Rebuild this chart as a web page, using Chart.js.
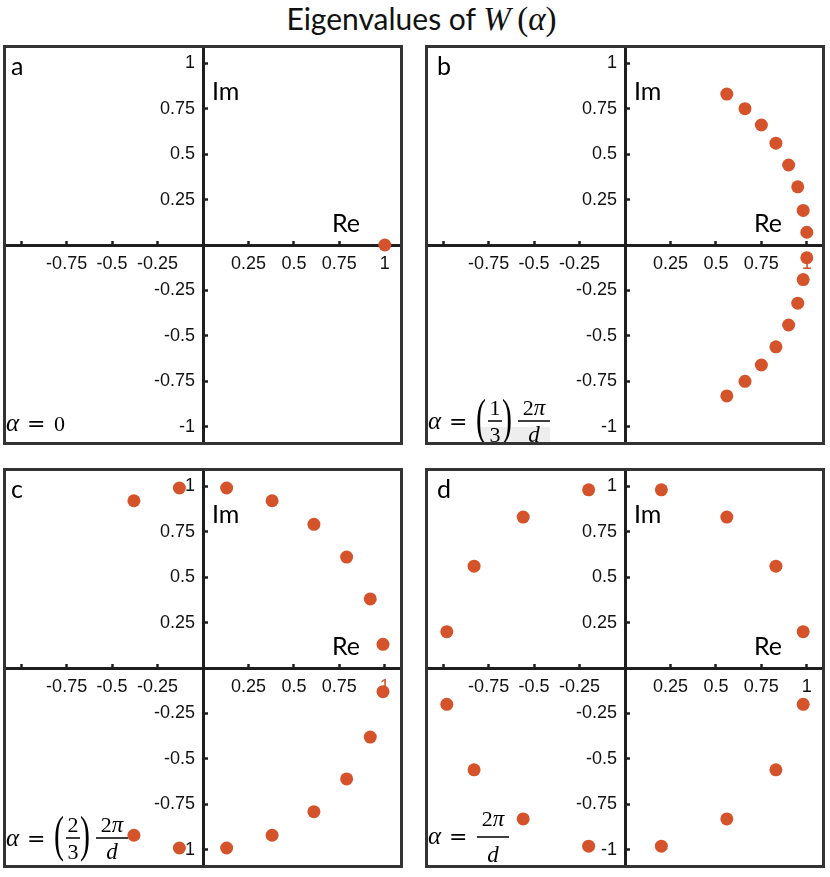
<!DOCTYPE html>
<html>
<head>
  <title>Eigenvalues of W(alpha)</title>
  <script src="https://cdn.jsdelivr.net/npm/chart.js@4.4.0/dist/chart.umd.min.js"></script>
  <style>
    body { margin: 0; background: #fff; }
    #wrap { position: relative; width: 830px; height: 877px; overflow: hidden; }
    #title {
      position: absolute; left: 0; top: 1px; width: 843px;
      text-align: center; white-space: nowrap;
      font-family: Lato, sans-serif; font-size: 30px; line-height: 34px; color: #111;
    }
    #title .m { font-family: 'Liberation Serif', serif; font-size: 33px; }
    canvas { position: absolute; }
  </style>
</head>
<body>
<div id="wrap">
  <div id="title">Eigenvalues of <span class="m"><i>W</i>&#8201;(<i>α</i>)</span></div>
  <canvas id="pa" width="400" height="400" style="left:3px;top:45px"></canvas>
  <canvas id="pb" width="400" height="400" style="left:425px;top:45px"></canvas>
  <canvas id="pc" width="400" height="400" style="left:3px;top:468px"></canvas>
  <canvas id="pd" width="400" height="400" style="left:425px;top:468px"></canvas>
</div>
<script>
  // ticks (same for all four panels)
  var reTicks = [-1, -0.75, -0.5, -0.25, 0.25, 0.5, 0.75, 1];
  var reTickLabels = ['', '-0.75', '-0.5', '-0.25', '0.25', '0.5', '0.75', '1'];
  var imTicks = [-1, -0.75, -0.5, -0.25, 0.25, 0.5, 0.75, 1];
  var imTickLabels = ['-1', '-0.75', '-0.5', '-0.25', '0.25', '0.5', '0.75', '1'];

  // a : alpha = 0
  var reA = [1];
  var imA = [0];

  // b : alpha = (1/3) 2pi/d
  var reB = [0.56, 0.66, 0.75, 0.83, 0.90, 0.95, 0.98, 1.00, 1.00, 0.98, 0.95, 0.90, 0.83, 0.75, 0.66, 0.56];
  var imB = [0.83, 0.75, 0.66, 0.56, 0.44, 0.32, 0.19, 0.07, -0.07, -0.19, -0.32, -0.44, -0.56, -0.66, -0.75, -0.83];

  // c : alpha = (2/3) 2pi/d
  var reC = [0.13, 0.38, 0.61, 0.79, 0.92, 0.99, 0.99, 0.92, 0.79, 0.61, 0.38, 0.13, -0.13, -0.38, -0.38, -0.13];
  var imC = [0.99, 0.92, 0.79, 0.61, 0.38, 0.13, -0.13, -0.38, -0.61, -0.79, -0.92, -0.99, -0.99, -0.92, 0.92, 0.99];

  // d : alpha = 2pi/d
  var reD = [0.20, 0.56, 0.83, 0.98, 0.98, 0.83, 0.56, 0.20, -0.20, -0.56, -0.83, -0.98, -0.98, -0.83, -0.56, -0.20];
  var imD = [0.98, 0.83, 0.56, 0.20, -0.20, -0.56, -0.83, -0.98, -0.98, -0.83, -0.56, -0.20, 0.20, 0.56, 0.83, 0.98];

  var DOT = '#d5532b';
  var INK = '#1e1e1e';
  var SERIF = '"Liberation Serif", serif';

  function axisOpts(ticks, labels, oneOrange) {
    return {
      type: 'linear',
      min: -1.1,
      max: 1.1,
      position: 'center',
      afterBuildTicks: function(s) {
        s.ticks = ticks.map(function(v) { return { value: v }; });
      },
      // axes sit inside the plot, so they should not push the plot area in
      afterFit: function(s) {
        s.paddingTop = s.paddingBottom = s.paddingLeft = s.paddingRight = 0;
      },
      grid: { drawOnChartArea: false, drawTicks: true, tickLength: -6, tickWidth: 2.5, tickColor: INK },
      border: { display: true, color: INK, width: 3 },
      ticks: {
        padding: 14,
        autoSkip: false,
        maxRotation: 0,
        minRotation: 0,
        font: { family: 'Liberation Sans', size: 18 },
        color: function(c) {
          return (oneOrange && c.tick && c.tick.value === 1) ? DOT : '#111';
        },
        callback: function(v, i) { return labels[i]; }
      }
    };
  }

  // text runs: [text, font]; centred on xc
  function runs(ctx, parts, xc, y) {
    var w = 0;
    parts.forEach(function(p) { ctx.font = p[1]; w += ctx.measureText(p[0]).width; });
    var x = xc - w / 2;
    ctx.textAlign = 'left';
    parts.forEach(function(p) { ctx.font = p[1]; ctx.fillText(p[0], x, y); x += ctx.measureText(p[0]).width; });
  }

  function alphaEq(ctx, x0, y0, base) {
    ctx.font = 'italic 25px ' + SERIF;
    ctx.fillText('α', x0 + 3, base);
    ctx.font = '22px "DejaVu Serif"';
    ctx.fillText('=', x0 + 24, base);
  }

  function frac(ctx, num, den, xl, xr, bar, numGap, denGap) {
    ctx.fillRect(xl, bar - 0.75, xr - xl, 1.5);
    runs(ctx, num, (xl + xr) / 2, bar - numGap);
    runs(ctx, den, (xl + xr) / 2, bar + denGap);
  }

  function paren(ctx, ch, x, bar) {
    ctx.save();
    ctx.translate(x, bar);
    ctx.scale(1, 1.7);
    ctx.font = '30px ' + SERIF;
    ctx.textAlign = 'left';
    ctx.fillText(ch, 0, 7.5);
    ctx.restore();
  }

  var up = '22px ' + SERIF, it = 'italic 23px ' + SERIF;

  // alpha = (k/3) 2pi/d
  function thirdsFormula(k, base, bar, grey) {
    return function(ctx, x0, y0) {
      if (grey) {
        ctx.fillStyle = '#eeeeee';
        ctx.fillRect(x0 + 55, y0 + 382, 70, 17);
        ctx.fillStyle = '#000';
      }
      alphaEq(ctx, x0, y0, y0 + base);
      paren(ctx, '(', x0 + 51, y0 + bar);
      frac(ctx, [[k, up]], [['3', up]], x0 + 63, x0 + 77, y0 + bar, 6, 21);
      paren(ctx, ')', x0 + 77, y0 + bar);
      frac(ctx, [['2', up], ['π', it]], [['d', it]], x0 + 93, x0 + 125, y0 + bar, 6, 21);
    };
  }

  var panels = [
    { id: 'pa', re: reA, im: imA, letter: 'a', lx: 8, orange: false,
      formula: function(ctx, x0, y0) {
        alphaEq(ctx, x0, y0, y0 + 386);
        ctx.font = up;
        ctx.fillText('0', x0 + 51, y0 + 386);
      } },
    { id: 'pb', re: reB, im: imB, letter: 'b', lx: 12, orange: true,
      formula: thirdsFormula('1', 384, 376, true) },
    { id: 'pc', re: reC, im: imC, letter: 'c', lx: 8, orange: true,
      formula: thirdsFormula('2', 378, 370, false) },
    { id: 'pd', re: reD, im: imD, letter: 'd', lx: 12, orange: false,
      formula: function(ctx, x0, y0) {
        alphaEq(ctx, x0, y0, y0 + 376);
        frac(ctx, [['2', up], ['π', it]], [['d', it]], x0 + 52, x0 + 84, y0 + 369, 11, 25);
      } }
  ];

  function decoPlugin(p) {
    return {
      id: 'deco',
      afterDraw: function(chart) {
        var ctx = chart.ctx, a = chart.chartArea;
        var cx = chart.scales.x.getPixelForValue(0);
        var cy = chart.scales.y.getPixelForValue(0);
        ctx.save();
        ctx.fillStyle = '#000';
        ctx.textBaseline = 'alphabetic';
        ctx.textAlign = 'left';
        ctx.font = '25px Lato';
        ctx.fillText(p.letter, a.left + p.lx, a.top + 30);
        ctx.fillText('Im', cx + 9, a.top + 55);
        ctx.fillText('Re', cx + 129, cy - 13);
        p.formula(ctx, a.left, a.top);
        // box round the panel
        ctx.strokeStyle = '#333';
        ctx.lineWidth = 3;
        ctx.strokeRect(a.left + 1.5, a.top + 1.5, a.right - a.left - 3, a.bottom - a.top - 3);
        ctx.restore();
      }
    };
  }

  panels.forEach(function(p) {
    var pts = p.re.map(function(x, i) { return { x: x, y: p.im[i] }; });
    new Chart(document.getElementById(p.id), {
      type: 'scatter',
      data: {
        datasets: [{
          data: pts,
          backgroundColor: DOT,
          borderWidth: 0,
          pointRadius: 6.5,
          pointHoverRadius: 6.5
        }]
      },
      options: {
        responsive: false,
        animation: false,
        events: [],
        layout: { padding: 0, autoPadding: false },
        plugins: { legend: { display: false }, tooltip: { enabled: false } },
        scales: {
          x: axisOpts(reTicks, reTickLabels, p.orange),
          y: axisOpts(imTicks, imTickLabels, false)
        }
      },
      plugins: [decoPlugin(p)]
    });
  });
</script>
</body>
</html>
